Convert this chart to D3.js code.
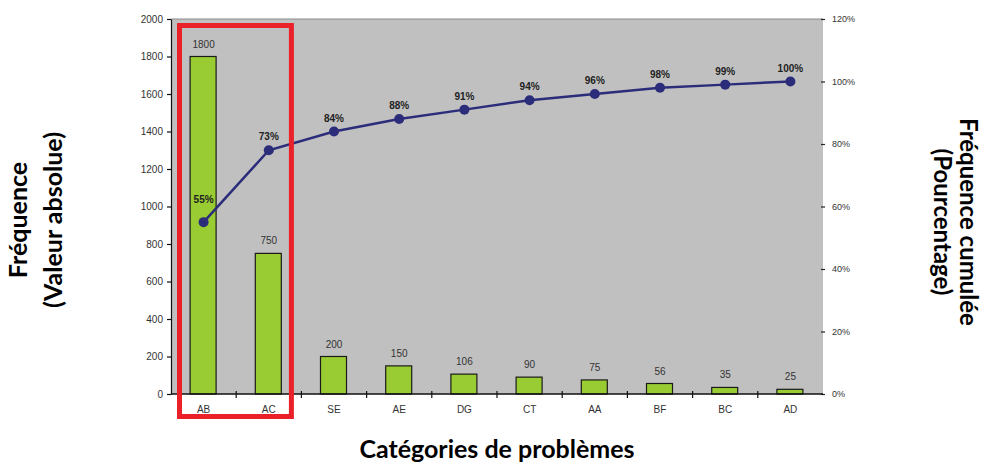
<!DOCTYPE html>
<html><head><meta charset="utf-8">
<script src="https://cdn.jsdelivr.net/npm/d3@7"></script>
<style>body{margin:0;background:#fff}svg{display:block}</style>
</head><body>
<svg id="c" width="984" height="463"></svg>
<script>
const categories = ["AB","AC","SE","AE","DG","CT","AA","BF","BC","AD"];
const frequencies = [1800,750,200,150,106,90,75,56,35,25];
const cumulativePct = [55,78,84,88,91,94,96,98,99,100];
const cumulativeLabels = ["55%","73%","84%","88%","91%","94%","96%","98%","99%","100%"];
const leftTicks = [0,200,400,600,800,1000,1200,1400,1600,1800,2000];
const rightTicks = [0,20,40,60,80,100,120];

const svg = d3.select("#c");
const L = 171, R = 823, T = 19, B = 394;
const x = d3.scaleBand().domain(categories).range([L,R]);
const y = d3.scaleLinear().domain([0,2000]).range([B,T]);
const y2 = d3.scaleLinear().domain([0,120]).range([B,T]);

svg.append("rect").attr("x",L).attr("y",T).attr("width",R-L).attr("height",B-T).attr("fill","#c0c0c0");
svg.append("line").attr("x1",L).attr("x2",R).attr("y1",T).attr("y2",T).attr("stroke","#8a8a8a").attr("stroke-width",1);

const font = "'Liberation Sans', Arial, sans-serif";

// bars
const bw = 26;
svg.append("g").selectAll("rect").data(frequencies).join("rect")
  .attr("x",(d,i)=>x(categories[i])+x.bandwidth()/2-bw/2-0.5)
  .attr("y",d=>y(d)).attr("width",bw).attr("height",d=>B-y(d))
  .attr("fill","#99cc33").attr("stroke","#1a1a1a").attr("stroke-width",1.2);
svg.append("g").selectAll("text").data(frequencies).join("text")
  .attr("x",(d,i)=>x(categories[i])+x.bandwidth()/2)
  .attr("y",d=>y(d)-9).attr("text-anchor","middle")
  .attr("font-family",font).attr("font-size",10).attr("fill","#333").text(d=>d);

// left axis
const ga = d3.axisLeft(y).tickValues(leftTicks).tickSize(4).tickPadding(4).tickSizeOuter(0).tickFormat(d3.format("d"));
const gl = svg.append("g").attr("transform",`translate(${L},0)`).call(ga);
gl.selectAll("text").attr("font-family",font).attr("font-size",10).attr("fill","#333");
gl.selectAll("line,path").attr("stroke","#111").attr("stroke-width",1.2);

// right axis
const ra = d3.axisRight(y2).tickValues(rightTicks).tickSize(4).tickPadding(7).tickSizeOuter(0).tickFormat(d=>d+"%");
const gr = svg.append("g").attr("transform",`translate(${R-2},0)`).call(ra);
gr.select("path").remove();
gr.selectAll("text").attr("font-family",font).attr("font-size",9).attr("fill","#333");
gr.selectAll("line").attr("stroke","#222").attr("stroke-width",1.2);

// bottom axis
const gb = svg.append("g");
gb.append("line").attr("x1",L).attr("x2",R).attr("y1",B).attr("y2",B).attr("stroke","#111").attr("stroke-width",1.5);
gb.selectAll("line.t").data(categories.slice(1)).join("line").attr("class","t")
  .attr("x1",d=>x(d)).attr("x2",d=>x(d)).attr("y1",B-3).attr("y2",B+4).attr("stroke","#111").attr("stroke-width",1.2);
gb.selectAll("text").data(categories).join("text")
  .attr("x",d=>x(d)+x.bandwidth()/2).attr("y",B+19).attr("text-anchor","middle")
  .attr("font-family",font).attr("font-size",10).attr("fill","#333").text(d=>d);

// cumulative line
const pts = cumulativePct.map((v,i)=>[x(categories[i])+x.bandwidth()/2, y2(v)]);
svg.append("path").attr("d",d3.line()(pts)).attr("fill","none").attr("stroke","#2b2d7a").attr("stroke-width",2.5);
svg.append("g").selectAll("circle").data(pts).join("circle")
  .attr("cx",d=>d[0]).attr("cy",d=>d[1]).attr("r",5).attr("fill","#2b2d7a");
svg.append("g").selectAll("text").data(cumulativeLabels).join("text")
  .attr("x",(d,i)=>pts[i][0]).attr("y",(d,i)=>pts[i][1]-(i===0?19:10)).attr("text-anchor","middle")
  .attr("font-family",font).attr("font-size",10).attr("font-weight","bold").attr("fill","#222").text(d=>d);

// red box
svg.append("rect").attr("x",x("AB")+8.5).attr("y",25.5).attr("width",x.bandwidth()*2-18.5).attr("height",391)
  .attr("fill","none").attr("stroke","#ea2129").attr("stroke-width",5);

// titles
const tf = "Lato, 'Open Sans', sans-serif";
const lt = svg.append("text").attr("transform","translate(27,220) rotate(-90)").attr("text-anchor","middle")
  .attr("font-family",tf).attr("font-weight","bold").attr("font-size",25).attr("fill","#000");
lt.append("tspan").attr("x",0).attr("dy",0).text("Fréquence");
lt.append("tspan").attr("x",0).attr("dy",35).text("(Valeur absolue)");
const rt = svg.append("text").attr("transform","translate(960,222) rotate(90)").attr("text-anchor","middle")
  .attr("font-family",tf).attr("font-weight","bold").attr("font-size",24).attr("fill","#000");
rt.append("tspan").attr("x",0).attr("dy",0).text("Fréquence cumulée");
rt.append("tspan").attr("x",0).attr("dy",26).text("(Pourcentage)");
svg.append("text").attr("x",497).attr("y",458).attr("text-anchor","middle")
  .attr("font-family",tf).attr("font-weight","bold").attr("font-size",25).attr("fill","#000").text("Catégories de problèmes");
</script>
</body></html>
